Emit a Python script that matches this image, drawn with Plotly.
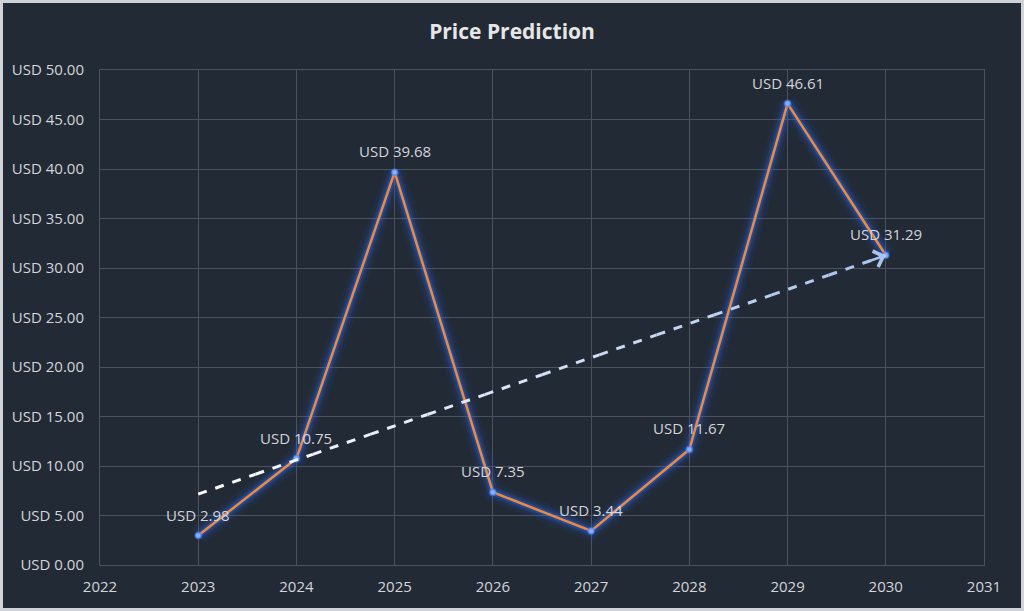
import plotly.graph_objects as go

years = [2023, 2024, 2025, 2026, 2027, 2028, 2029, 2030]
prices = [2.98, 10.75, 39.68, 7.35, 3.44, 11.67, 46.61, 31.29]
trend_x = [2023, 2030]
trend_y = [7.16, 31.28]
x_ticks = [2022, 2023, 2024, 2025, 2026, 2027, 2028, 2029, 2030, 2031]
y_ticks = [0, 5, 10, 15, 20, 25, 30, 35, 40, 45, 50]

BG = "#222a35"
GRID = "#4b525c"
TXT = "#d2d5da"
FONT = "Open Sans"

W, H = 1024, 611
L, R, T, B = 100, 40, 70, 46
PW, PH = W - L - R, H - T - B

fig = go.Figure()

# glow layers
for w, a in [(20, 0.05), (14, 0.08), (10, 0.14), (6, 0.30)]:
    fig.add_trace(go.Scatter(x=years, y=prices, mode="lines",
                             line=dict(color=f"rgba(40,110,255,{a})", width=w),
                             hoverinfo="skip", showlegend=False))
fig.add_trace(go.Scatter(x=years, y=prices, mode="lines+markers",
                         line=dict(color="#ee8a3c", width=2.5),
                         marker=dict(color="#8db0f2", size=6,
                                     line=dict(color="rgba(60,120,255,0.5)", width=2)),
                         showlegend=False))

# trend line with gradient (white -> light blue) in segments
n = 12
c0 = (255, 255, 255)
c1 = (170, 195, 235)
for i in range(n):
    t0 = i / n
    t1 = (i + 1) / n
    xa = trend_x[0] + (trend_x[1] - trend_x[0]) * t0
    xb = trend_x[0] + (trend_x[1] - trend_x[0]) * t1
    ya = trend_y[0] + (trend_y[1] - trend_y[0]) * t0
    yb = trend_y[0] + (trend_y[1] - trend_y[0]) * t1
    tm = (t0 + t1) / 2
    col = tuple(int(c0[k] + (c1[k] - c0[k]) * tm) for k in range(3))
    fig.add_trace(go.Scatter(x=[xa, xb], y=[ya, yb], mode="lines",
                             line=dict(color=f"rgb{col}", width=3, dash="dash"),
                             hoverinfo="skip", showlegend=False))

annotations = []
for x, y in zip(years, prices):
    annotations.append(dict(x=x, y=y, text=f"USD {y:.2f}", showarrow=False,
                            yshift=21, font=dict(family=FONT, size=15, color=TXT)))
# arrow head
annotations.append(dict(x=trend_x[1], y=trend_y[1],
                        ax=trend_x[1] - 0.25,
                        ay=trend_y[1] - 0.25 * (trend_y[1] - trend_y[0]) / (trend_x[1] - trend_x[0]),
                        axref="x", ayref="y", xref="x", yref="y",
                        showarrow=True, arrowhead=4, arrowsize=1.3, arrowwidth=2.5,
                        arrowcolor="rgb(170,195,235)", text=""))

fig.update_layout(
    width=W, height=H,
    paper_bgcolor=BG, plot_bgcolor=BG,
    margin=dict(l=L, r=R, t=T, b=B),
    title=dict(text="<b>Price Prediction</b>", x=0.5, xanchor="center", y=0.948, yanchor="middle",
               font=dict(family=FONT, size=21, color="#e6e6e6")),
    xaxis=dict(range=[2022, 2031], tickvals=x_ticks, ticktext=[str(v) for v in x_ticks],
               showgrid=True, gridcolor=GRID, gridwidth=1, zeroline=False,
               showline=True, linecolor=GRID, mirror=True, ticklabelstandoff=8,
               tickfont=dict(family=FONT, size=15, color=TXT), ticks="", ticklen=0),
    yaxis=dict(range=[0, 50], tickvals=y_ticks, ticktext=[f"USD {v:.2f}" for v in y_ticks],
               showgrid=True, gridcolor=GRID, gridwidth=1, zeroline=False,
               showline=True, linecolor=GRID, mirror=True, ticklabelstandoff=12,
               tickfont=dict(family=FONT, size=15, color=TXT), ticks="", ticklen=0),
    annotations=annotations,
    shapes=[dict(type="rect", xref="paper", yref="paper",
                 x0=-L / PW + 1.5 / PW, x1=1 + R / PW - 1.5 / PW,
                 y0=-B / PH + 1.5 / PH, y1=1 + T / PH - 1.5 / PH,
                 line=dict(color="#cfd2d6", width=3), layer="above")],
)

fig.write_html("out.html", config={"displayModeBar": False},
               post_script="document.body.style.margin='0';document.body.style.background='#222a35';")
